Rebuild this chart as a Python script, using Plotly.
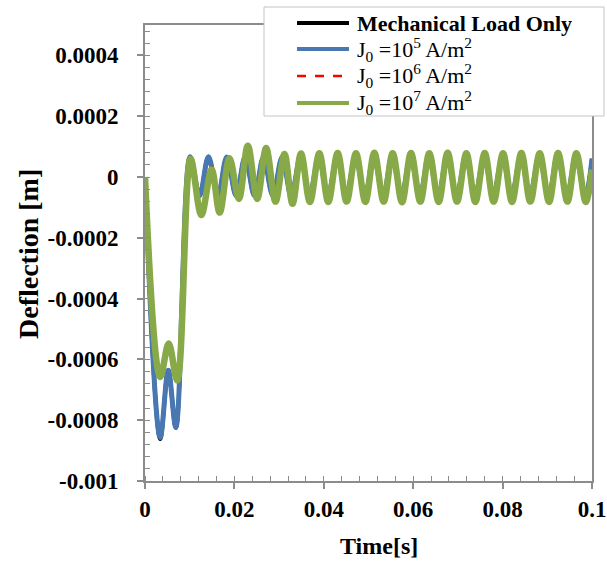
import plotly.graph_objects as go

# ---- Data: turning points (time [s], deflection [m]) of each response ----
t_mech = [0.0, 0.0034, 0.0052, 0.0069, 0.0101, 0.0122, 0.0142, 0.0163, 0.0183, 0.0204,
          0.0224, 0.0245, 0.0265, 0.0286, 0.0307, 0.0327, 0.0348, 0.0368, 0.0389, 0.0409,
          0.0430, 0.0450, 0.0471, 0.0492, 0.0512, 0.0533, 0.0553, 0.0574, 0.0594, 0.0615,
          0.0635, 0.0656, 0.0676, 0.0697, 0.0718, 0.0738, 0.0759, 0.0779, 0.0800, 0.0820,
          0.0841, 0.0861, 0.0882, 0.0903, 0.0923, 0.0944, 0.0964, 0.0985, 0.1000]
d_mech = [0.0, -0.000862, -0.000636, -0.000825, 0.000067, -0.000062, 0.000067, -0.000063, 0.000066, -0.000062,
          0.000066, -0.000062, 0.000065, -0.000061, 0.000066, -0.000062, 0.000065, -0.000061, 0.000066, -0.000062,
          0.000065, -0.000061, 0.000066, -0.000062, 0.000065, -0.000061, 0.000066, -0.000062, 0.000065, -0.000061,
          0.000066, -0.000062, 0.000065, -0.000061, 0.000066, -0.000062, 0.000065, -0.000061, 0.000066, -0.000062,
          0.000065, -0.000061, 0.000066, -0.000062, 0.000065, -0.000061, 0.000066, -0.000062, 0.000060]

t_j5 = t_mech
d_j5 = [0.0, -0.000857, -0.000636, -0.000823, 0.000067, -0.000062, 0.000067, -0.000063, 0.000066, -0.000062,
        0.000066, -0.000062, 0.000065, -0.000061, 0.000066, -0.000062, 0.000065, -0.000061, 0.000066, -0.000062,
        0.000065, -0.000061, 0.000066, -0.000062, 0.000065, -0.000061, 0.000066, -0.000062, 0.000065, -0.000061,
        0.000066, -0.000062, 0.000065, -0.000061, 0.000066, -0.000062, 0.000065, -0.000061, 0.000066, -0.000062,
        0.000065, -0.000061, 0.000066, -0.000062, 0.000065, -0.000061, 0.000066, -0.000062, 0.000060]

t_j6 = [0.0, 0.0034, 0.0052, 0.0071, 0.0102, 0.0125, 0.0147, 0.0166, 0.0187, 0.0207,
        0.0228, 0.0248, 0.0268, 0.0289, 0.0309, 0.0329, 0.0349, 0.0369, 0.0390, 0.0410,
        0.0431, 0.0451, 0.0472, 0.0493, 0.0513, 0.0534, 0.0554, 0.0575, 0.0595, 0.0616,
        0.0636, 0.0657, 0.0677, 0.0698, 0.0719, 0.0739, 0.0760, 0.0780, 0.0801, 0.0821,
        0.0842, 0.0862, 0.0883, 0.0904, 0.0924, 0.0945, 0.0965, 0.0986, 0.1000]
d_j6 = [0.0, -0.000662, -0.000550, -0.000668, 0.000062, -0.000100, 0.000040, -0.000095, 0.000058, -0.000068,
        0.000075, -0.000060, 0.000065, -0.000055, 0.000055, -0.000050, 0.000052, -0.000048, 0.000050, -0.000047,
        0.000050, -0.000046, 0.000048, -0.000046, 0.000049, -0.000045, 0.000048, -0.000046, 0.000049, -0.000045,
        0.000048, -0.000046, 0.000049, -0.000045, 0.000048, -0.000046, 0.000049, -0.000045, 0.000048, -0.000046,
        0.000049, -0.000045, 0.000048, -0.000046, 0.000049, -0.000045, 0.000048, -0.000046, 0.000030]

t_j7 = [0.0, 0.0034, 0.0053, 0.0072, 0.0102, 0.0126, 0.0149, 0.0167, 0.0189, 0.0210,
        0.0230, 0.0251, 0.0271, 0.0292, 0.0312, 0.0330, 0.0349, 0.0369, 0.0390, 0.0410,
        0.0431, 0.0451, 0.0472, 0.0493, 0.0513, 0.0534, 0.0554, 0.0575, 0.0595, 0.0616,
        0.0636, 0.0657, 0.0677, 0.0698, 0.0719, 0.0739, 0.0760, 0.0780, 0.0801, 0.0821,
        0.0842, 0.0862, 0.0883, 0.0904, 0.0924, 0.0945, 0.0965, 0.0986, 0.1000]
d_j7 = [0.0, -0.000658, -0.000548, -0.000669, 0.000060, -0.000125, 0.000025, -0.000117, 0.000062, -0.000072,
        0.000103, -0.000072, 0.000095, -0.000081, 0.000076, -0.000088, 0.000077, -0.000082, 0.000078, -0.000082,
        0.000079, -0.000081, 0.000078, -0.000082, 0.000080, -0.000081, 0.000078, -0.000083, 0.000079, -0.000081,
        0.000078, -0.000082, 0.000080, -0.000081, 0.000078, -0.000082, 0.000079, -0.000081, 0.000078, -0.000082,
        0.000079, -0.000081, 0.000078, -0.000082, 0.000079, -0.000081, 0.000078, -0.000082, 0.000025]

series_names = ["Mechanical Load Only",
                "J<sub>0</sub> =10<sup>5</sup> A/m<sup>2</sup>",
                "J<sub>0</sub> =10<sup>6</sup> A/m<sup>2</sup>",
                "J<sub>0</sub> =10<sup>7</sup> A/m<sup>2</sup>"]
series_colors = ["#000000", "#4877b2", "#ff0000", "#88a948"]

x_tick_vals = [0, 0.02, 0.04, 0.06, 0.08, 0.1]
x_tick_text = ["0", "0.02", "0.04", "0.06", "0.08", "0.1"]
y_tick_vals = [-0.001, -0.0008, -0.0006, -0.0004, -0.0002, 0, 0.0002, 0.0004]
y_tick_text = ["-0.001", "-0.0008", "-0.0006", "-0.0004", "-0.0002", "0", "0.0002", "0.0004"]

FONT = "Liberation Serif"
AXIS_GREY = "#8c8c8c"

fig = go.Figure()
styles = [dict(width=4), dict(width=5), dict(width=2, dash="dash"), dict(width=6.5)]
for t, d, name, color, st in zip([t_mech, t_j5, t_j6, t_j7], [d_mech, d_j5, d_j6, d_j7],
                                 series_names, series_colors, styles):
    fig.add_trace(go.Scatter(x=t, y=d, mode="lines", name=name,
                             line=dict(color=color, shape="spline", smoothing=1, **st),
                             showlegend=False))

# plot area in pixels: x 145..592, y 25..481
L, R, T, B = 145, 15, 25, 86
W, H = 607, 567
pw, ph = W - L - R, H - T - B


def px(xp):
    return (xp - L) / pw


def py(yp):
    return (H - B - yp) / ph


# legend box drawn on top of the plot frame
shapes = [dict(type="rect", xref="paper", yref="paper", x0=px(264), x1=px(604), y0=py(116), y1=py(7),
               line=dict(color="#c4c4c4", width=1), fillcolor="white", layer="above")]
annotations = []
rows = [23, 49, 76, 103]
sample_w = [4, 4, 2.5, 4]
for i, (name, color) in enumerate(zip(series_names, series_colors)):
    shapes.append(dict(type="line", xref="paper", yref="paper", x0=px(297), x1=px(349),
                       y0=py(rows[i]), y1=py(rows[i]), layer="above",
                       line=dict(color=color, width=sample_w[i], dash="dash" if i == 2 else "solid")))
    annotations.append(dict(xref="paper", yref="paper", x=px(355), y=py(rows[i]), xanchor="left",
                            yanchor="middle", showarrow=False,
                            text=("<b>%s</b>" % name) if i == 0 else name,
                            font=dict(family=FONT, size=22, color="black")))

annotations.append(dict(xref="paper", yref="paper", x=px(379), y=py(546), xanchor="center", yanchor="middle",
                        showarrow=False, text="<b>Time[s]</b>",
                        font=dict(family=FONT, size=24, color="black")))
annotations.append(dict(xref="paper", yref="paper", x=px(28), y=py(254), xanchor="center", yanchor="middle",
                        showarrow=False, text="<b>Deflection [m]</b>", textangle=-90,
                        font=dict(family=FONT, size=28, color="black")))

tick_font = dict(family=FONT, size=23, color="black", weight="bold")
fig.update_layout(
    width=W, height=H,
    margin=dict(l=L, r=R, t=T, b=B, pad=0, autoexpand=False),
    paper_bgcolor="white", plot_bgcolor="white",
    font=dict(family=FONT, color="black"),
    shapes=shapes, annotations=annotations,
    xaxis=dict(range=[0, 0.1], tickvals=x_tick_vals, ticktext=x_tick_text, tickfont=tick_font,
               automargin=False,
               showgrid=False, zeroline=False, showline=True, linecolor=AXIS_GREY, linewidth=2,
               mirror=True, ticks="outside", ticklen=6, tickwidth=1.5, tickcolor=AXIS_GREY,
               ticklabelstandoff=0,
               minor=dict(dtick=0.004, tick0=0, ticks="inside", ticklen=5, tickwidth=1.2,
                          tickcolor=AXIS_GREY, showgrid=False)),
    yaxis=dict(range=[-0.001, 0.0005], tickvals=y_tick_vals, ticktext=y_tick_text, tickfont=tick_font,
               automargin=False,
               showgrid=False, zeroline=False, showline=True, linecolor=AXIS_GREY, linewidth=2,
               mirror=True, ticks="outside", ticklen=6, tickwidth=1.5, tickcolor=AXIS_GREY,
               ticklabelstandoff=14,
               minor=dict(dtick=0.00004, tick0=0, ticks="inside", ticklen=5, tickwidth=1.2,
                          tickcolor=AXIS_GREY, showgrid=False)),
)

fig.write_html("out.html")
